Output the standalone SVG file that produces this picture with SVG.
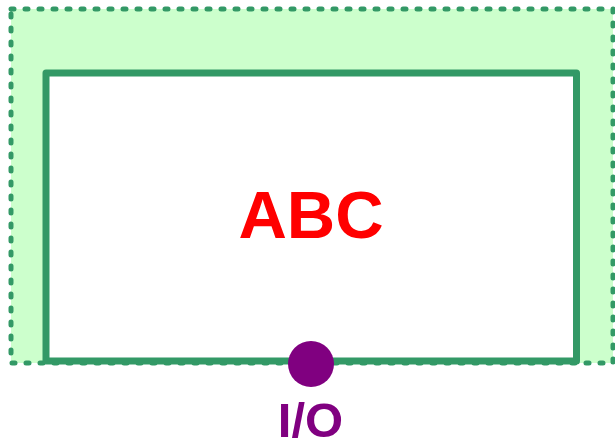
<svg xmlns="http://www.w3.org/2000/svg" width="615" height="443" viewBox="0 0 615 443">
<style>
.lbl{font-family:"Liberation Sans",Arial,sans-serif;font-weight:bold;text-anchor:middle}
</style>
<rect width="615" height="443" fill="#ffffff"/>
<g id="outer">
<rect x="11" y="9" width="602" height="354" fill="#ccffcc" stroke="#339966" stroke-width="5" stroke-dasharray="3,11" stroke-linecap="round"/>
</g>
<g id="abc">
<rect x="46" y="73" width="530.5" height="288" fill="#ffffff" stroke="#339966" stroke-width="7" stroke-linejoin="round"/>
<text class="lbl" x="311" y="238" font-size="67" fill="#ff0000">ABC</text>
</g>
<g id="connectors"></g>
<g id="io">
<circle cx="311" cy="364" r="23" fill="#800080"/>
<text class="lbl" x="310.5" y="437" font-size="49" fill="#800080">I/O</text>
</g>
</svg>
